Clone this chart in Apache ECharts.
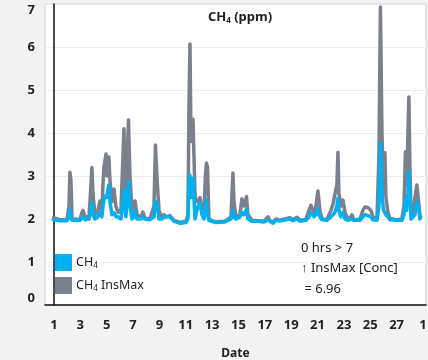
<!DOCTYPE html>
<html>
<head>
<meta charset="utf-8">
<script src="https://cdn.jsdelivr.net/npm/echarts@6/dist/echarts.min.js"></script>
<style>
html, body { margin: 0; padding: 0; background: #f3f3f3; }
#main { width: 428px; height: 360px; }
</style>
</head>
<body>
<div id="main"></div>
<script>
// time in days since day 1 00:00
var days = [-0.15, 0.08, 0.46, 0.99, 1.14, 1.21, 1.29, 1.37, 1.97, 2.12, 2.20, 2.35, 2.66, 2.81, 2.88, 2.96, 3.11, 3.34, 3.49, 3.64,
	3.72, 3.79, 3.95, 4.02, 4.10, 4.17, 4.25, 4.40, 4.55, 4.70, 4.86, 5.08, 5.24, 5.31, 5.39, 5.46, 5.58, 5.65, 5.77, 5.92,
	6.07, 6.15, 6.30, 6.60, 6.75, 6.90, 7.28, 7.59, 7.70, 7.81, 7.89, 7.97, 8.19, 8.35, 8.50, 8.80, 9.10, 9.56, 10.02, 10.17,
	10.24, 10.32, 10.39, 10.47, 10.55, 10.62, 10.70, 10.77, 10.93, 11.08, 11.23, 11.38, 11.49, 11.57, 11.65, 11.76, 12.22, 12.97, 13.43, 13.51,
	13.58, 13.66, 13.81, 14.11, 14.26, 14.42, 14.61, 14.72, 15.02, 15.48, 15.93, 16.24, 16.39, 16.62, 16.84, 17.15, 17.53, 17.91, 18.13, 18.44,
	18.66, 19.12, 19.35, 19.50, 19.61, 19.73, 19.88, 20.03, 20.18, 20.33, 20.71, 21.02, 21.17, 21.32, 21.47, 21.55, 21.62, 21.78, 21.93, 22.08,
	22.31, 22.53, 22.61, 22.76, 23.22, 23.44, 23.60, 23.82, 24.05, 24.20, 24.51, 24.66, 24.77, 24.89, 25.00, 25.11, 25.19, 25.34, 25.49, 25.95,
	26.40, 26.56, 26.67, 26.75, 26.86, 26.93, 27.01, 27.09, 27.24, 27.39, 27.54, 27.66, 27.77, 27.85];
//CH4
var ch4 = [2.00, 1.98, 1.96, 1.96, 2.05, 2.23, 2.05, 1.97, 1.97, 2.00, 2.05, 1.98, 2.00, 2.20, 2.37, 2.10, 2.00, 2.05, 2.15, 2.05,
	2.30, 2.45, 2.55, 2.50, 2.70, 2.79, 2.40, 2.10, 2.15, 2.05, 2.05, 2.00, 2.40, 2.67, 2.20, 2.05, 2.50, 2.86, 2.30, 2.00,
	2.05, 2.20, 2.00, 2.00, 2.05, 2.00, 1.98, 2.05, 2.41, 2.35, 2.20, 2.00, 2.00, 2.05, 2.02, 2.05, 1.95, 1.90, 1.92, 2.00,
	2.90, 3.02, 2.50, 2.60, 2.95, 2.50, 2.00, 2.10, 2.30, 2.37, 2.10, 2.00, 2.20, 2.44, 2.10, 1.97, 1.92, 1.93, 2.00, 2.10,
	2.20, 2.05, 2.00, 2.05, 2.15, 2.10, 2.23, 2.00, 1.95, 1.95, 1.93, 1.98, 1.95, 1.90, 1.97, 1.95, 1.98, 2.00, 1.96, 2.00,
	1.95, 1.97, 2.05, 2.15, 2.17, 2.05, 2.10, 2.25, 2.05, 1.98, 1.97, 2.05, 2.10, 2.15, 2.30, 2.48, 2.20, 2.05, 2.15, 2.00,
	1.97, 2.00, 2.02, 1.97, 1.97, 2.05, 2.10, 2.08, 2.05, 1.98, 1.97, 2.30, 3.77, 2.60, 2.20, 2.20, 2.10, 2.05, 1.98, 1.97,
	1.97, 2.10, 2.48, 2.20, 2.60, 3.10, 2.50, 2.00, 1.98, 2.10, 2.40, 2.30, 2.00, 1.98];
//CH4 InsMax
var insMax = [2.03, 2.02, 1.98, 1.98, 2.30, 3.09, 2.90, 2.00, 1.99, 2.15, 2.20, 2.05, 2.05, 2.80, 3.20, 2.60, 2.10, 2.20, 2.42, 2.20,
	2.80, 3.20, 3.51, 3.00, 3.30, 3.44, 2.90, 2.40, 2.70, 2.30, 2.15, 2.20, 3.50, 4.10, 3.00, 2.30, 3.60, 4.30, 3.00, 2.20,
	2.30, 2.42, 2.10, 2.05, 2.16, 2.02, 2.00, 2.30, 3.72, 3.00, 2.98, 2.20, 2.03, 2.10, 2.05, 2.08, 1.97, 1.92, 1.95, 2.10,
	4.50, 6.07, 4.00, 3.80, 4.32, 3.50, 2.60, 2.40, 2.40, 2.50, 2.20, 2.10, 3.00, 3.30, 3.20, 2.00, 1.93, 1.95, 2.05, 2.60,
	3.07, 2.40, 2.05, 2.10, 2.47, 2.30, 2.52, 2.10, 1.97, 1.96, 1.95, 2.05, 1.96, 1.92, 2.00, 1.97, 2.00, 2.03, 1.98, 2.04,
	1.97, 1.99, 2.20, 2.32, 2.35, 2.15, 2.30, 2.65, 2.20, 2.00, 1.99, 2.20, 2.35, 2.37, 2.80, 3.55, 2.60, 2.30, 2.44, 2.15,
	1.99, 2.05, 2.10, 1.98, 2.00, 2.20, 2.28, 2.27, 2.20, 2.05, 2.00, 3.50, 6.93, 4.00, 2.60, 3.54, 2.50, 2.15, 2.02, 1.98,
	2.00, 2.30, 3.56, 2.80, 4.00, 4.84, 3.20, 2.20, 2.05, 2.50, 2.79, 2.77, 2.10, 2.02];
//x轴标签
var dayTicks = [0, 2, 4, 6, 8, 10, 12, 14, 16, 18, 20, 22, 24, 26, 28];
var dayLabels = ['1', '3', '5', '7', '9', '11', '13', '15', '17', '19', '21', '23', '25', '27', '1'];
var noteLines = ['0 hrs > 7', '\u2191 InsMax [Conc]', ' = 6.96'];

var ch4Data = [], maxData = [];
for (var i = 0; i < days.length; i++) {
	ch4Data.push([days[i], ch4[i]]);
	maxData.push([days[i], insMax[i]]);
}

var FONT = '"Noto Sans", "Open Sans", sans-serif';

var chart = echarts.init(document.getElementById('main'));
var option = {
	backgroundColor: '#f3f3f3',
	animation: false,
	title: {
		text: 'CH{sub|4} (ppm)',
		left: 235, top: 5, textAlign: 'center',
		textStyle: {
			fontFamily: FONT, fontSize: 13, fontWeight: 'bold', color: '#222',
			rich: { sub: { fontSize: 8, fontWeight: 'bold', color: '#222', padding: [7, 0, 0, 0], fontFamily: FONT } }
		}
	},
	legend: {
		orient: 'vertical', left: 55, top: 254, padding: 0,
		itemWidth: 17, itemHeight: 17, itemGap: 6, icon: 'rect',
		data: ['CH4', 'CH4 InsMax'],
		formatter: function(n) { return n.replace('CH4', 'CH{sub|4}'); },
		textStyle: {
			fontFamily: FONT, fontSize: 12.5, color: '#222', padding: [0, 0, 0, -1],
			rich: { sub: { fontSize: 8, color: '#222', padding: [6, 0, 0, 0], fontFamily: FONT } }
		}
	},
	grid: {
		left: 45, right: 2, top: 4, bottom: 55, outerBoundsMode: 'none',
		show: true, backgroundColor: '#fff', borderColor: '#d0d0d0', borderWidth: 1
	},
	xAxis: {
		type: 'value', min: -0.68, max: 28.23,
		name: 'Date', nameLocation: 'middle', nameGap: 43,
		nameTextStyle: { fontFamily: FONT, fontSize: 12, fontWeight: 'bold', color: '#222' },
		axisLine: { show: true, lineStyle: { color: '#111', width: 1.5 } },
		axisTick: { show: false },
		splitLine: { show: false },
		axisLabel: {
			customValues: dayTicks, margin: 14,
			formatter: function(v) { return dayLabels[dayTicks.indexOf(Math.round(v))]; },
			fontFamily: FONT, fontSize: 13, fontWeight: 'bold', color: '#222'
		}
	},
	yAxis: {
		type: 'value', min: 0, max: 7, interval: 1,
		axisLine: { show: true, lineStyle: { color: '#111', width: 1.5 } },
		axisTick: { show: false },
		splitLine: { lineStyle: { color: '#ededed', width: 1 } },
		axisLabel: {
			margin: 10, fontFamily: FONT, fontSize: 13, fontWeight: 'bold', color: '#222',
			verticalAlignMinLabel: 'bottom', verticalAlignMaxLabel: 'top'
		}
	},
	graphic: [{
		type: 'text', left: 301, top: 238,
		style: {
			text: noteLines.join('\n'), lineHeight: 20.5,
			fontFamily: FONT, fontSize: 13, fill: '#222'
		}
	}],
	series: [
		{
			name: 'CH4 InsMax', type: 'line', showSymbol: false, color: '#7a808c',
			lineStyle: { width: 3.5, join: 'round' }, data: maxData
		},
		{
			name: 'CH4', type: 'line', showSymbol: false, color: '#00b0f0',
			lineStyle: { width: 3.5, join: 'round' }, data: ch4Data
		}
	]
};
chart.setOption(option);
</script>
</body>
</html>
